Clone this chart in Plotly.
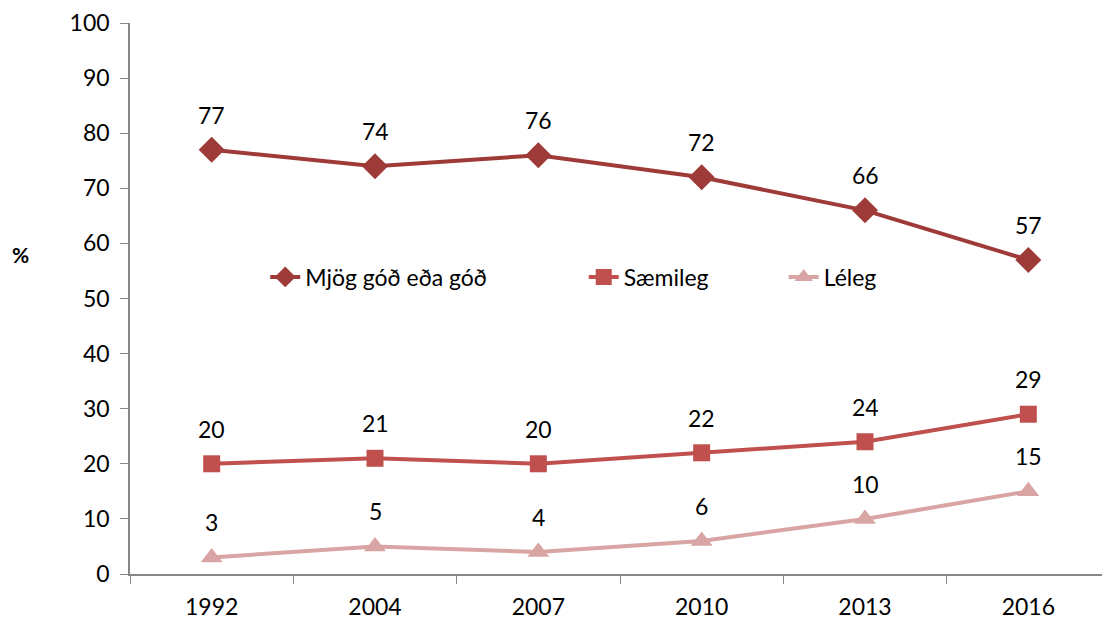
"""
Line chart: self-rated condition over survey years (Icelandic labels)
"""

import plotly.graph_objects as go

years = ['1992', '2004', '2007', '2010', '2013', '2016']
series_names = ['Mjög góð eða góð', 'Sæmileg', 'Léleg']
very_good = [77, 74, 76, 72, 66, 57]
fair = [20, 21, 20, 22, 24, 29]
poor = [3, 5, 4, 6, 10, 15]
y_ticks = [0, 10, 20, 30, 40, 50, 60, 70, 80, 90, 100]

FONT = 'Lato'
FSIZE = 23
colors = ['#9E3B38', '#C0504D', '#D9A5A4']
symbols = ['diamond', 'square', 'triangle-up']
marker_sizes = [20, 17, 19]

fig = go.Figure()

all_values = [very_good, fair, poor]
legend_ids = ['legend', 'legend2', 'legend3']

for name, values, color, symbol, msize, leg in zip(
        series_names, all_values, colors, symbols, marker_sizes, legend_ids):
    fig.add_trace(go.Scatter(
        x=years,
        y=values,
        name=name,
        mode='lines+markers',
        line=dict(color=color, width=4),
        marker=dict(symbol=symbol, size=msize, color=color),
        legend=leg,
        showlegend=True,
    ))
    # data labels above each point (x given as category index)
    for i, v in enumerate(values):
        fig.add_annotation(
            x=i, y=v, text=str(v), showarrow=False,
            xref='x', yref='y',
            yanchor='middle', yshift=35,
            font=dict(family=FONT, size=FSIZE, color='black'),
        )

legend_common = dict(
    orientation='h',
    yanchor='middle',
    xanchor='left',
    bgcolor='rgba(0,0,0,0)',
    font=dict(family=FONT, size=FSIZE, color='black'),
    itemwidth=30,
)

fig.update_layout(
    width=1102,
    height=616,
    margin=dict(l=122, r=0, t=13, b=50),
    paper_bgcolor='white',
    plot_bgcolor='white',
    showlegend=True,
    font=dict(family=FONT, size=FSIZE, color='black'),
    legend=dict(x=0.138, y=0.539, **legend_common),
    legend2=dict(x=0.463, y=0.539, **legend_common),
    legend3=dict(x=0.667, y=0.539, **legend_common),
    xaxis=dict(
        type='category',
        range=[-0.5, 5.5],
        showline=True,
        linecolor='#868686',
        linewidth=1.5,
        ticks='outside',
        tickson='boundaries',
        ticklen=8,
        tickcolor='#868686',
        showgrid=False,
        ticklabelstandoff=12,
        tickfont=dict(family=FONT, size=FSIZE, color='black'),
    ),
    yaxis=dict(
        range=[0, 100],
        tickvals=y_ticks,
        showline=True,
        linecolor='#868686',
        linewidth=1.5,
        ticks='outside',
        ticklen=8,
        tickcolor='#868686',
        showgrid=False,
        zeroline=False,
        ticklabelstandoff=6,
        ticklabeloverflow='allow',
        tickfont=dict(family=FONT, size=FSIZE, color='black'),
    ),
)

fig.add_annotation(
    xref='paper', yref='paper', x=-0.112, y=0.579,
    text='<b>%</b>', showarrow=False,
    xanchor='center', yanchor='middle',
    font=dict(family=FONT, size=21, color='black'),
)

fig.write_html('out.html')
